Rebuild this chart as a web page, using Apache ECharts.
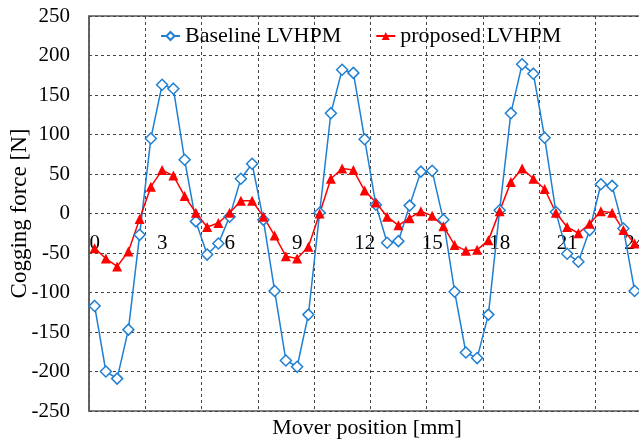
<!DOCTYPE html>
<html>
<head>
<meta charset="utf-8">
<script src="https://cdn.jsdelivr.net/npm/echarts@6/dist/echarts.min.js"></script>
<style>
html,body{margin:0;padding:0;background:#fff;}
#chart{width:639px;height:441px;}
</style>
</head>
<body>
<div id="chart"></div>
<script>
// Mover position [mm] (0 to 24, step 0.5)
const positions = [0,0.5,1,1.5,2,2.5,3,3.5,4,4.5,5,5.5,6,6.5,7,7.5,8,8.5,9,9.5,10,10.5,11,11.5,12,12.5,13,13.5,14,14.5,15,15.5,16,16.5,17,17.5,18,18.5,19,19.5,20,20.5,21,21.5,22,22.5,23,23.5,24];
const baseline = [-117,-200,-209,-147,-27,95,163,158,68,-10,-52,-38,-4,44,63,-8,-98,-186,-194,-128,1,127,182,178,94,11,-37,-35,10,53,54,-8,-99,-176,-183,-128,4,127,189,177,96,2,-51,-61,-21,37,35,-19,-98];
const proposed = [-44,-57,-67,-48,-7,34,55,48,22,1,-17,-12,1,16,16,-4,-28,-54,-57,-42,0,44,57,55,29,14,-4,-15,-6,3,-3,-16,-40,-47,-46,-34,3,40,57,44,31,1,-17,-25,-13,3,1,-21,-38];
const xTickLabels = [0,3,6,9,12,15,18,21,24];
const seriesNames = ['Baseline LVHPM','proposed LVHPM'];
const xTitle = 'Mover position [mm]';
const yTitle = 'Cogging force [N]';

const FONT = 'Liberation Serif';
const chart = echarts.init(document.getElementById('chart'));
const zip = (xs, ys) => xs.map((x, i) => [x, ys[i]]);

chart.setOption({
  animation: false,
  backgroundColor: '#fff',
  grid: {
    left: 89, top: 16, bottom: 30, right: -12.5,
    containLabel: false, outerBoundsMode: 'none',
    show: true, borderColor: '#5a5a5a', borderWidth: 1.5, backgroundColor: 'transparent'
  },
  legend: {
    left: 160, top: 25, padding: 0, itemGap: 34, itemWidth: 19, itemHeight: 10,
    textStyle: { fontFamily: FONT, fontSize: 22, color: '#000' },
    data: seriesNames
  },
  xAxis: [
    {
      type: 'value', position: 'bottom', min: -0.25, max: 24.75, interval: 0.25,
      axisLine: { show: false, onZero: false },
      axisTick: { show: false },
      splitLine: { show: false },
      axisLabel: {
        margin: -178, fontFamily: FONT, fontSize: 21, color: '#000',
        formatter: v => {
          const r = Math.round(v);
          return (Math.abs(v - r) < 1e-6 && xTickLabels.includes(r)) ? String(r) : '';
        }
      }
    },
    {
      type: 'value', position: 'top', min: 0, max: 25, interval: 2.5,
      axisLine: { show: false, onZero: false },
      axisTick: { show: false },
      axisLabel: { show: false },
      splitLine: { show: true, lineStyle: { color: '#444', type: [3, 3], width: 1 } }
    }
  ],
  yAxis: {
    type: 'value', position: 'left', min: -250, max: 250, interval: 50,
    axisLine: { show: true, onZero: false, lineStyle: { color: '#5a5a5a', width: 1.5 } },
    axisTick: { show: false },
    axisLabel: { margin: 19, fontFamily: FONT, fontSize: 21, color: '#000' },
    splitLine: { show: true, lineStyle: { color: '#444', type: [3, 3], width: 1 } },
    name: yTitle, nameLocation: 'middle', nameGap: 58, nameMoveOverlap: false,
    nameTextStyle: { fontFamily: FONT, fontSize: 23, color: '#000' }
  },
  graphic: [{
    type: 'text', x: 367, y: 428,
    style: { text: xTitle, fontFamily: FONT, fontSize: 22, fill: '#000', textAlign: 'center', textVerticalAlign: 'middle' }
  }],
  series: [
    {
      name: seriesNames[0], type: 'line', xAxisIndex: 0, data: zip(positions, baseline),
      symbol: 'diamond', symbolSize: 11,
      lineStyle: { color: '#1f7fd2', width: 1.5 },
      itemStyle: { color: '#fff', borderColor: '#1f7fd2', borderWidth: 1.5 }
    },
    {
      name: seriesNames[1], type: 'line', xAxisIndex: 0, data: zip(positions, proposed),
      symbol: 'triangle', symbolSize: 10,
      lineStyle: { color: '#ff0000', width: 1.5 },
      itemStyle: { color: '#ff0000' }
    }
  ]
});
</script>
</body>
</html>
